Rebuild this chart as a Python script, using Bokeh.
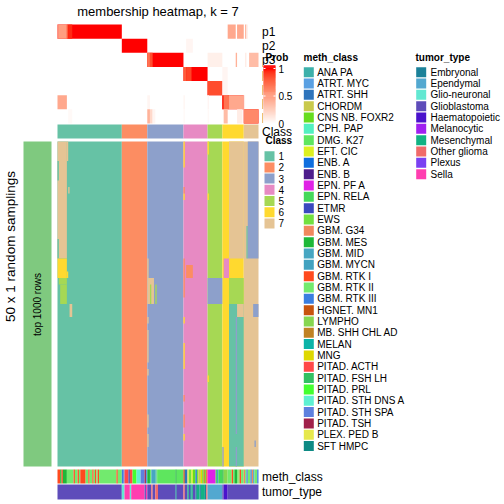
import math
import numpy as np
from bokeh.plotting import figure
from bokeh.models import Range1d
from bokeh.embed import file_html
from bokeh.resources import INLINE
from bokeh.core.properties import value

FONT = "Liberation Sans"

# ---------------- data ----------------
title = "membership heatmap, k = 7"
class_labels = ["1", "2", "3", "4", "5", "6", "7"]
class_colors = ["#66C2A5", "#FC8D62", "#8DA0CB", "#E78AC3", "#A6D854", "#FFD92F", "#E5C494"]
class_counts = [48, 19, 27, 18, 11, 16, 11]

prob_labels = ["p1", "p2", "p3", "p4", "p5", "p6", "p7"]
# (row, first sample, end sample, membership probability)
prob_segments = [
    (0, 0, 1, 0.45), (0, 1, 7, 0.5), (0, 7, 8, 0.8), (0, 8, 11, 0.95),
    (0, 127, 133, 0.45), (0, 134, 139, 0.45), (0, 140, 141, 0.4), (0, 141, 142, 0.1),
    (1, 96, 101, 0.05),
    (2, 67, 69, 0.7), (2, 69, 71, 0.85), (2, 112, 123, 0.08), (2, 133, 134, 0.4),
    (2, 140, 141, 0.1), (2, 143, 150, 0.35),
    (3, 94, 96, 0.8), (3, 96, 100, 0.88), (3, 123, 127, 0.05),
    (4, 112, 123, 0.85), (4, 123, 127, 0.05),
    (5, 0, 7, 0.45), (5, 67, 69, 0.05), (5, 94, 95, 0.05), (5, 112, 113, 0.05),
    (5, 123, 124, 0.95), (5, 124, 128, 0.7), (5, 128, 139, 0.45), (5, 139, 140, 0.1),
    (6, 8, 11, 0.03), (6, 67, 69, 0.4), (6, 69, 71, 0.2), (6, 71, 73, 0.05),
    (6, 94, 95, 0.03), (6, 112, 113, 0.03), (6, 124, 127, 0.35), (6, 134, 138, 0.1),
    (6, 139, 150, 0.6),
]
prob_ticks = [0, 0.5, 1]
prob_tick_labels = ["0", "0.5", "1"]

n_samplings = 50
# (first sample, end sample, first sampling row, end row, class)
sampling_segments = [
    (0, 7, 0, 18, 7), (7, 8, 0, 3, 7), (8, 9, 7, 8, 7), (0, 1, 3, 6, 1), (0, 1, 15, 18, 1),
    (0, 7, 18, 21, 6), (7, 8, 20, 21, 6),
    (1, 7, 21, 22, 5), (2, 7, 22, 25, 5),
    (9, 11, 25, 27, 7),
    (67, 68, 18, 21, 7), (67, 72, 21, 25, 7), (69, 70, 22, 25, 5), (73, 74, 22, 25, 5),
    (67, 68, 27, 28, 7), (67, 68, 29, 31, 7), (67, 68, 31, 34, 7), (67, 68, 35, 36, 7),
    (67, 68, 42, 44, 7), (67, 68, 45, 47, 7),
    (94, 95, 0, 4, 6), (94, 95, 8, 9, 6), (94, 95, 7, 8, 2),
    (94, 95, 18, 24, 2), (96, 101, 19, 21, 2),
    (94, 95, 27, 28, 6), (94, 95, 31, 35, 6), (94, 95, 39, 40, 2), (94, 95, 42, 44, 2),
    (94, 95, 45, 46, 6),
    (112, 123, 21, 25, 3),
    (112, 113, 0, 2, 6), (112, 113, 8, 9, 6), (112, 113, 36, 37, 6),
    (124, 128, 18, 21, 4),
    (128, 139, 0, 18, 7), (141, 142, 13, 18, 1), (142, 150, 0, 18, 3),
    (128, 139, 21, 25, 5),
    (128, 139, 25, 50, 1), (134, 139, 25, 27, 7), (146, 150, 25, 27, 3),
    (133, 134, 27, 45, 3), (133, 134, 47, 50, 3), (147, 148, 46, 47, 3), (123, 124, 47, 50, 3),
]

meth_classes = ["ANA PA", "ATRT. MYC", "ATRT. SHH", "CHORDM", "CNS NB. FOXR2", "CPH. PAP",
                "DMG. K27", "EFT. CIC", "ENB. A", "ENB. B", "EPN. PF A", "EPN. RELA", "ETMR",
                "EWS", "GBM. G34", "GBM. MES", "GBM. MID", "GBM. MYCN", "GBM. RTK I",
                "GBM. RTK II", "GBM. RTK III", "HGNET. MN1", "LYMPHO", "MB. SHH CHL AD",
                "MELAN", "MNG", "PITAD. ACTH", "PITAD. FSH LH", "PITAD. PRL",
                "PITAD. STH DNS A", "PITAD. STH SPA", "PITAD. TSH", "PLEX. PED B", "SFT HMPC"]
meth_colors = ["#3DB0AA", "#5AA0E2", "#2E74BC", "#C9C94C", "#66DC1E", "#52F0C0",
               "#5EE65E", "#DDF020", "#0F6EDE", "#4E1E8C", "#E022E6", "#45D85A", "#3A48BE",
               "#72E040", "#F0885E", "#1EB838", "#47A6C2", "#42A2C0", "#FF4A1E",
               "#72EA6E", "#3A7EE0", "#C8540E", "#86D650", "#C08224",
               "#0CB3A8", "#DED800", "#FF4848", "#32C062", "#44FF30",
               "#5EF0D2", "#5E80DE", "#A0204A", "#E6E84C", "#0E8A84"]
meth_runs = [
    ("GBM. RTK I", 2), ("GBM. MES", 1), ("GBM. RTK I", 1), ("GBM. MES", 3), ("GBM. RTK II", 5),
    ("GBM. RTK I", 1), ("GBM. RTK II", 2), ("GBM. RTK I", 1), ("GBM. RTK II", 1),
    ("GBM. RTK I", 4), ("GBM. RTK II", 2), ("GBM. RTK I", 1), ("GBM. RTK II", 2),
    ("GBM. RTK I", 1), ("GBM. RTK II", 1), ("GBM. RTK I", 1), ("GBM. RTK II", 1),
    ("GBM. RTK I", 1), ("GBM. RTK II", 13), ("GBM. RTK I", 1), ("GBM. RTK II", 3),
    ("GBM. RTK III", 1), ("PITAD. STH SPA", 1), ("PITAD. ACTH", 3), ("ETMR", 1),
    ("PITAD. ACTH", 2), ("PITAD. PRL", 3), ("PITAD. STH DNS A", 3), ("PITAD. STH SPA", 3),
    ("PITAD. TSH", 1), ("ATRT. MYC", 1),
    ("GBM. MES", 2), ("GBM. RTK II", 1), ("GBM. MID", 3), ("ANA PA", 1), ("GBM. RTK II", 1),
    ("DMG. K27", 13), ("GBM. MES", 1), ("DMG. K27", 5),
    ("HGNET. MN1", 1), ("ATRT. SHH", 2), ("PLEX. PED B", 1), ("EWS", 2), ("EFT. CIC", 1),
    ("CNS NB. FOXR2", 2), ("ENB. A", 1), ("EWS", 1), ("CHORDM", 2), ("MNG", 1),
    ("CNS NB. FOXR2", 1), ("MB. SHH CHL AD", 1), ("EWS", 1), ("GBM. RTK I", 1),
    ("EPN. PF A", 6), ("EPN. RELA", 1), ("GBM. MID", 1), ("EPN. RELA", 3),
    ("GBM. MES", 1), ("LYMPHO", 3), ("GBM. RTK II", 3), ("GBM. RTK I", 1), ("GBM. RTK II", 1),
    ("GBM. MES", 2), ("GBM. RTK II", 1), ("LYMPHO", 1), ("GBM. RTK I", 1), ("GBM. RTK II", 2),
    ("GBM. G34", 1), ("GBM. RTK II", 1), ("GBM. RTK III", 1), ("GBM. RTK II", 2),
    ("GBM. RTK III", 1), ("GBM. G34", 1), ("GBM. MID", 1), ("GBM. RTK II", 2), ("GBM. RTK III", 1),
]

tumor_types = ["Embryonal", "Ependymal", "Glio-neuronal", "Glioblastoma", "Haematopoietic",
               "Melanocytic", "Mesenchymal", "Other glioma", "Plexus", "Sella"]
tumor_colors = ["#1B8199", "#52A8D0", "#62E8D2", "#5E4CBA", "#4A12CC",
                "#A020F0", "#12B283", "#F06A6A", "#7A40F2", "#FF3EB0"]
tumor_runs = [
    ("Glioblastoma", 48),
    ("Glio-neuronal", 2), ("Sella", 4), ("Glio-neuronal", 1), ("Sella", 10), ("Glioblastoma", 1),
    ("Sella", 1),
    ("Glioblastoma", 3), ("Other glioma", 1), ("Glioblastoma", 2), ("Other glioma", 2),
    ("Glioblastoma", 13), ("Embryonal", 1), ("Glioblastoma", 5),
    ("Other glioma", 1), ("Glioblastoma", 2), ("Mesenchymal", 1), ("Glioblastoma", 1),
    ("Embryonal", 1), ("Mesenchymal", 1), ("Glioblastoma", 2), ("Embryonal", 1),
    ("Mesenchymal", 2), ("Embryonal", 1), ("Mesenchymal", 3), ("Embryonal", 1),
    ("Other glioma", 1),
    ("Ependymal", 11),
    ("Glioblastoma", 1), ("Haematopoietic", 3), ("Glioblastoma", 23),
]

# ---------------- colour ramp (white -> red in Lab) ----------------
def _hex2rgb(h):
    h = h.lstrip("#")
    return [int(h[i:i + 2], 16) for i in (0, 2, 4)]

def _f(t):
    return t ** (1 / 3) if t > (6 / 29) ** 3 else t / (3 * (6 / 29) ** 2) + 4 / 29

def _finv(t):
    return t ** 3 if t > 6 / 29 else 3 * (6 / 29) ** 2 * (t - 4 / 29)

def rgb2lab(rgb):
    lin = []
    for c in rgb:
        c = c / 255
        lin.append(c / 12.92 if c <= 0.04045 else ((c + 0.055) / 1.055) ** 2.4)
    r, g, b = lin
    X = 0.4124564 * r + 0.3575761 * g + 0.1804375 * b
    Y = 0.2126729 * r + 0.7151522 * g + 0.0721750 * b
    Z = 0.0193339 * r + 0.1191920 * g + 0.9503041 * b
    fx, fy, fz = _f(X / 0.95047), _f(Y), _f(Z / 1.08883)
    return (116 * fy - 16, 500 * (fx - fy), 200 * (fy - fz))

def lab2hex(L, a, b):
    fy = (L + 16) / 116
    fx = fy + a / 500
    fz = fy - b / 200
    X, Y, Z = 0.95047 * _finv(fx), _finv(fy), 1.08883 * _finv(fz)
    r = 3.2404542 * X - 1.5371385 * Y - 0.4985314 * Z
    g = -0.9692660 * X + 1.8760108 * Y + 0.0415560 * Z
    bb = 0.0556434 * X - 0.2040259 * Y + 1.0572252 * Z
    out = []
    for c in (r, g, bb):
        c = 12.92 * c if c <= 0.0031308 else 1.055 * c ** (1 / 2.4) - 0.055
        out.append(int(round(min(max(c, 0), 1) * 255)))
    return "#%02x%02x%02x" % tuple(out)

LAB_W = rgb2lab(_hex2rgb("#FFFFFF"))
LAB_R = rgb2lab(_hex2rgb("#FF0000"))

def ramp(v):
    v = min(max(v, 0.0), 1.0)
    return lab2hex(*[w + (r - w) * v for w, r in zip(LAB_W, LAB_R)])

# ---------------- layout ----------------
W, H = 504, 504
HX0, HX1 = 57, 258
PROB_TOP, PROB_ROW_H = 24.0, 14.14
CLASS_TOP, CLASS_BOT = 124, 138
MAIN_TOP, MAIN_BOT = 141, 466
METH_TOP, METH_BOT = 469, 483
TUM_TOP, TUM_BOT = 484, 499

N = sum(class_counts)
starts = np.concatenate([[0], np.cumsum(class_counts)])
sw = (HX1 - HX0) / N
rh = (MAIN_BOT - MAIN_TOP) / n_samplings

p = figure(width=W, height=H, x_range=Range1d(0, W), y_range=Range1d(H, 0),
           output_backend="svg", toolbar_location=None, min_border=0,
           x_axis_type=None, y_axis_type=None)
p.grid.visible = False
p.outline_line_color = None
p.background_fill_color = "white"
p.border_fill_color = "white"
p.extra_x_ranges = {"s": Range1d(start=(0 - HX0) / sw, end=(W - HX0) / sw)}
p.extra_y_ranges = {
    "r": Range1d(start=(H - MAIN_TOP) / rh, end=(0 - MAIN_TOP) / rh),
    "p": Range1d(start=(H - PROB_TOP) / PROB_ROW_H, end=(0 - PROB_TOP) / PROB_ROW_H),
}

# ---- probability heatmap ----
pl, pr, pt, pb, pc = [], [], [], [], []
for k in range(7):
    pl.append(starts[k]); pr.append(starts[k + 1]); pt.append(k); pb.append(k + 1)
    pc.append(ramp(1.0))
for row, s0, s1, v in prob_segments:
    pl.append(s0); pr.append(s1); pt.append(row); pb.append(row + 1); pc.append(ramp(v))
p.quad(left=pl, right=pr, top=pt, bottom=pb, fill_color=pc, line_color=None,
       x_range_name="s", y_range_name="p")

# ---- class bar ----
p.quad(left=list(starts[:-1]), right=list(starts[1:]), top=[CLASS_TOP] * 7,
       bottom=[CLASS_BOT] * 7, fill_color=class_colors, line_color=None, x_range_name="s")

# ---- main membership heatmap ----
ml, mr, mt, mb, mc = [], [], [], [], []
for k in range(7):
    ml.append(starts[k]); mr.append(starts[k + 1]); mt.append(0); mb.append(n_samplings)
    mc.append(class_colors[k])
for s0, s1, r0, r1, c in sampling_segments:
    ml.append(s0); mr.append(s1); mt.append(r0); mb.append(r1); mc.append(class_colors[c - 1])
p.quad(left=ml, right=mr, top=mt, bottom=mb, fill_color=mc, line_color=None,
       x_range_name="s", y_range_name="r")

# ---- left bar ----
p.quad(left=[23], right=[51], top=[MAIN_TOP], bottom=[MAIN_BOT], fill_color="#7FC97F",
       line_color=None)

# ---- annotation bars ----
def runs_to_quads(runs, names, colors, top, bot):
    lookup = dict(zip(names, colors))
    l, r, c = [], [], []
    pos = 0
    for name, n in runs:
        l.append(pos); r.append(pos + n); c.append(lookup[name]); pos += n
    p.quad(left=l, right=r, top=[top] * len(l), bottom=[bot] * len(l), fill_color=c,
           line_color=None, x_range_name="s")

runs_to_quads(meth_runs, meth_classes, meth_colors, METH_TOP, METH_BOT)
runs_to_quads(tumor_runs, tumor_types, tumor_colors, TUM_TOP, TUM_BOT)

# ---- texts ----
def txt(x, y, t, size, align="left", bold=False, angle=0.0, baseline="middle"):
    p.text(x=x, y=y, text=t, text_font=value(FONT), text_font_size=size,
           text_align=align, text_baseline=baseline, angle=angle,
           text_font_style="bold" if bold else "normal", text_color="black")

txt([157.5], [11], [title], "13px", align="center")
row_y = [PROB_TOP + (i + 0.5) * PROB_ROW_H for i in range(7)]
txt([261.5] * 7, row_y, prob_labels, "12px")
txt([261.5], [131], ["Class"], "12px")
txt([261.5, 261.5], [476, 491], ["meth_class", "tumor_type"], "12px")
txt([10], [246], ["50 x 1 random samplings"], "13.5px", align="center", angle=math.pi / 2)
txt([37], [304], ["top 1000 rows"], "10px", align="center", angle=math.pi / 2)

# ---- Prob legend ----
p.quad(left=[262.6], right=[300], top=[64.5], bottom=[126.5], fill_color="white",
       line_color=None)
CB_TOP, CB_BOT = 65, 123
nb = 60
y_edges = [CB_BOT - (CB_BOT - CB_TOP) * i / nb for i in range(nb + 1)]
p.quad(left=[263] * nb, right=[275] * nb, top=[y_edges[i + 1] - 0.3 for i in range(nb)],
       bottom=[y_edges[i] + 0.3 for i in range(nb)],
       fill_color=[ramp(min(1, (CB_BOT - (y_edges[i] + y_edges[i + 1]) / 2) / 55)) for i in range(nb)],
       line_color=None)
tick_y = [CB_BOT - 55 * t for t in prob_ticks]
p.segment(x0=[263] * 3, x1=[265] * 3, y0=tick_y, y1=tick_y, line_color="white", line_width=1)
p.segment(x0=[273] * 3, x1=[275] * 3, y0=tick_y, y1=tick_y, line_color="white", line_width=1)
txt([278] * 3, tick_y, prob_tick_labels, "10px")
txt([265], [57], ["Prob"], "10px", bold=True)

# ---- Class legend ----
txt([265], [140], ["Class"], "10px", bold=True)
SP = 11.2
cy0 = 150.7
p.quad(left=[264] * 7, right=[274] * 7, top=[cy0 + i * SP for i in range(7)],
       bottom=[cy0 + i * SP + 10 for i in range(7)], fill_color=class_colors, line_color=None)
txt([278] * 7, [cy0 + 5 + i * SP for i in range(7)], class_labels, "10px")

# ---- meth_class legend ----
LS = 11.33
ly0 = 66.7
txt([303], [57], ["meth_class"], "10px", bold=True)
nm = len(meth_classes)
p.quad(left=[303.3] * nm, right=[313.3] * nm, top=[ly0 + i * LS for i in range(nm)],
       bottom=[ly0 + i * LS + 10 for i in range(nm)], fill_color=meth_colors, line_color=None)
txt([316.7] * nm, [ly0 + 5 + i * LS for i in range(nm)], meth_classes, "10px")

# ---- tumor_type legend ----
txt([415], [57], ["tumor_type"], "10px", bold=True)
nt = len(tumor_types)
p.quad(left=[415.7] * nt, right=[425.7] * nt, top=[ly0 + i * LS for i in range(nt)],
       bottom=[ly0 + i * LS + 10 for i in range(nt)], fill_color=tumor_colors, line_color=None)
txt([430] * nt, [ly0 + 5 + i * LS for i in range(nt)], tumor_types, "10px")

open("out.html", "w").write(file_html(p, INLINE))
